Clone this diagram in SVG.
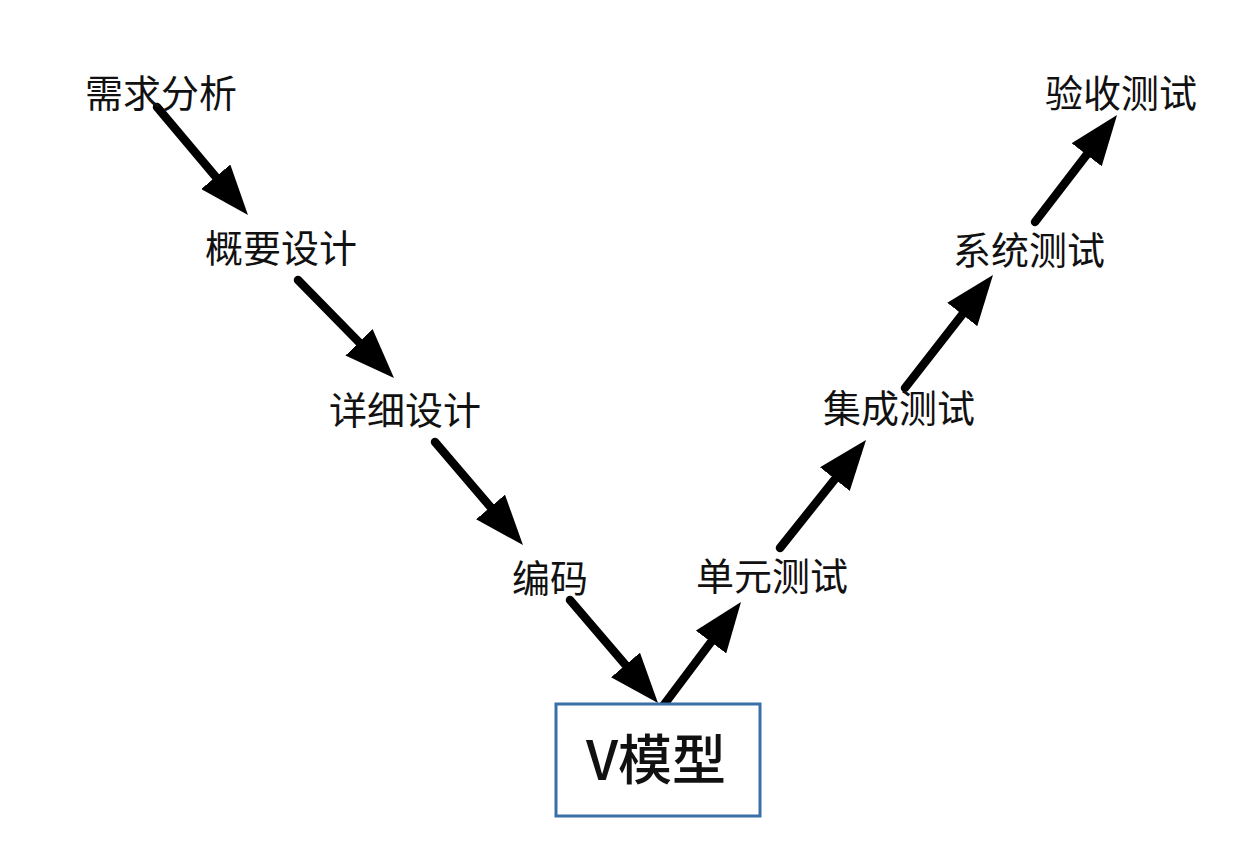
<svg xmlns="http://www.w3.org/2000/svg" width="1240" height="858" viewBox="0 0 1240 858">
  <style>
    .label { font-family: "Noto Sans CJK SC", "Noto Sans", sans-serif; font-size: 38px; fill: #111; text-anchor: middle; dominant-baseline: central; }
    .title { font-family: "Noto Sans CJK SC", "Noto Sans", sans-serif; font-size: 54px; font-weight: 500; fill: #111; text-anchor: middle; dominant-baseline: central; }
    .box { fill: #fff; stroke: #3b6fa8; stroke-width: 3; }
    .flow { stroke: #000; stroke-width: 8.5; stroke-linecap: round; fill: none; marker-end: url(#head); }
  </style>
  <defs>
    <marker id="head" markerUnits="userSpaceOnUse" markerWidth="50" markerHeight="38" refX="10" refY="19" orient="auto">
      <path d="M0,0 L50,19 L0,38 Z" fill="#000"/>
    </marker>
  </defs>
  <rect width="1240" height="858" fill="#fff"/>

  <g id="connectors">
    <line class="flow" x1="157" y1="107" x2="222.2" y2="184.4"/>
    <line class="flow" x1="298" y1="280" x2="366" y2="349.4"/>
    <line class="flow" x1="435" y1="442" x2="497" y2="514.6"/>
    <line class="flow" x1="570" y1="600" x2="632" y2="672.6"/>
    <line class="flow" x1="660" y1="710" x2="717" y2="634"/>
    <line class="flow" x1="780" y1="548" x2="841.1" y2="471.3"/>
    <line class="flow" x1="905" y1="388" x2="968.4" y2="306.6"/>
    <line class="flow" x1="1035" y1="222" x2="1092.7" y2="146.8"/>
  </g>

  <g id="node-requirements"><text class="label" x="161" y="90">需求分析</text></g>
  <g id="node-outline-design"><text class="label" x="281" y="245">概要设计</text></g>
  <g id="node-detail-design"><text class="label" x="405" y="407">详细设计</text></g>
  <g id="node-coding"><text class="label" x="550" y="575">编码</text></g>
  <g id="node-unit-test"><text class="label" x="772" y="573">单元测试</text></g>
  <g id="node-integration-test"><text class="label" x="899" y="405">集成测试</text></g>
  <g id="node-system-test"><text class="label" x="1029" y="247">系统测试</text></g>
  <g id="node-acceptance-test"><text class="label" x="1121" y="90">验收测试</text></g>

  <g id="node-v-model">
    <rect class="box" x="556" y="704" width="204" height="112"/>
    <text class="title" x="656" y="756">V模型</text>
  </g>
</svg>
